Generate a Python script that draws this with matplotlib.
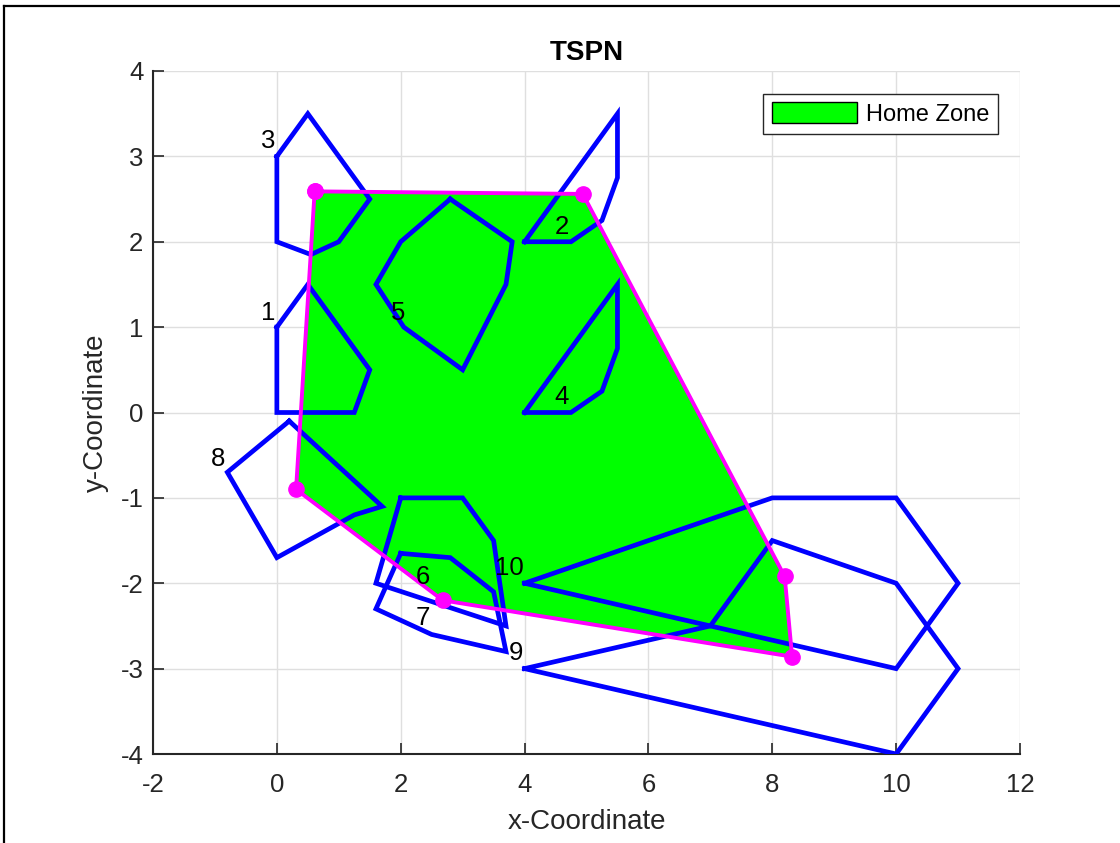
import matplotlib
matplotlib.use("Agg")
import matplotlib.pyplot as plt
from matplotlib.lines import Line2D
from matplotlib.patches import Polygon

plt.rcParams["font.family"] = ["Liberation Sans", "DejaVu Sans"]
plt.rcParams["axes.unicode_minus"] = False

# region outlines, numbered 1..10
regions = {
    1: [(0, 1), (0.5, 1.5), (1.5, 0.5), (1.25, 0), (0, 0)],
    2: [(4, 2), (5.5, 3.5), (5.5, 2.75), (5.25, 2.25), (4.75, 2)],
    3: [(0, 3), (0.5, 3.5), (1.5, 2.5), (1, 2), (0.55, 1.85), (0, 2)],
    4: [(4, 0), (5.5, 1.5), (5.5, 0.75), (5.25, 0.25), (4.75, 0)],
    5: [(2.8, 2.5), (3.8, 2.0), (3.7, 1.5), (3.0, 0.5), (2.05, 1.0), (1.6, 1.5), (2.0, 2.0)],
    6: [(2, -1), (3, -1), (3.5, -1.5), (3.7, -2.5), (1.6, -2)],
    7: [(2, -1.65), (2.8, -1.7), (3.5, -2.1), (3.7, -2.8), (2.5, -2.6), (1.6, -2.3)],
    8: [(0.2, -0.1), (-0.8, -0.7), (0, -1.7), (1.25, -1.2), (1.7, -1.1)],
    9: [(4, -3), (7, -2.5), (8, -1.5), (10, -2), (11, -3), (10, -4)],
    10: [(4, -2), (8, -1), (10, -1), (11, -2), (10, -3)],
}

# where each region number is written
label_x = [-0.145, 4.60, -0.145, 4.60, 1.954, 2.357, 2.357, -0.953, 3.859, 3.762]
label_y = [1.171, 2.178, 3.185, 0.176, 1.171, -1.932, -2.412, -0.539, -2.822, -1.827]

# tour through the regions (closed)
tour_x = [0.61, 4.94, 8.20, 8.32, 2.68, 0.31]
tour_y = [2.59, 2.56, -1.92, -2.86, -2.20, -0.90]

fig = plt.figure(figsize=(11.2, 8.43), dpi=100)
ax = fig.add_axes([153 / 1120, 1 - 754 / 843, (1020 - 153) / 1120, (754 - 71) / 843])

home = Polygon(list(zip(tour_x, tour_y)), closed=True, facecolor=(0, 1, 0),
               edgecolor="none", label="Home Zone", zorder=2)
ax.add_patch(home)

for k, pts in regions.items():
    xs = [p[0] for p in pts] + [pts[0][0]]
    ys = [p[1] for p in pts] + [pts[0][1]]
    ax.plot(xs, ys, color=(0, 0, 1), lw=3.4, solid_joinstyle="miter", zorder=3)

for i, (lx, ly) in enumerate(zip(label_x, label_y)):
    ax.text(lx, ly, str(i + 1), fontsize=18.5, ha="center", va="center", zorder=5)

ax.plot(tour_x + tour_x[:1], tour_y + tour_y[:1], color=(1, 0, 1), lw=2.8,
        marker="o", markersize=11, zorder=4)

ax.set_xlim(-2, 12)
ax.set_ylim(-4, 4)
ax.set_xticks(range(-2, 13, 2))
ax.set_yticks(range(-4, 5, 1))
ax.grid(True, color="#dfdfdf", lw=1)
ax.set_axisbelow(True)
for s in ("top", "right"):
    ax.spines[s].set_visible(False)
for s in ("left", "bottom"):
    ax.spines[s].set_color("#262626")
    ax.spines[s].set_linewidth(1.5)
ax.tick_params(direction="in", length=8, width=1.2, colors="#262626",
               labelsize=18.5)
ax.tick_params(axis="x", pad=14)
ax.tick_params(axis="y", pad=7)

ax.set_xlabel("x-Coordinate", fontsize=20, color="#262626", labelpad=8)
ax.set_ylabel("y-Coordinate", fontsize=20, color="#262626", labelpad=8)
ax.set_title("TSPN", fontsize=20, fontweight="bold", pad=8)

leg = ax.legend(handles=[home], loc="upper right", bbox_to_anchor=(0.988, 0.984),
                fontsize=17, fancybox=False, framealpha=1, edgecolor="#262626",
                handlelength=3.6, handleheight=1.0, borderpad=0.35, handletextpad=0.4)
leg.get_frame().set_linewidth(1.0)
leg.legend_handles[0].set_edgecolor("black")

# outer frame on the left and top edges
fig.add_artist(Line2D([4 / 1120, 4 / 1120], [0, 1 - 6 / 843], color="black", lw=1.6))
fig.add_artist(Line2D([4 / 1120, 1], [1 - 6 / 843, 1 - 6 / 843], color="black", lw=1.6))

fig.savefig("out.png", dpi=100)
